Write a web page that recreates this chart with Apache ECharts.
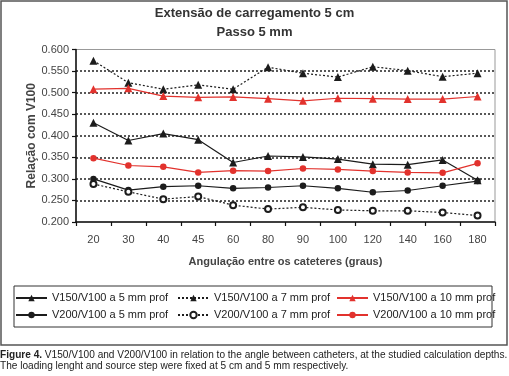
<!DOCTYPE html>
<html><head><meta charset="utf-8">
<script src="https://cdn.jsdelivr.net/npm/echarts@6/dist/echarts.min.js"></script>
<style>html,body{margin:0;padding:0;background:#fff}#c{width:509px;height:376px}</style>
</head><body><div id="c"></div>
<script>
const categories = ['20','30','40','45','60','80','90','100','120','140','160','180'];
const v150_5  = [0.430,0.389,0.405,0.391,0.338,0.353,0.351,0.346,0.334,0.333,0.344,0.297];
const v150_7  = [0.574,0.523,0.508,0.518,0.508,0.559,0.545,0.536,0.560,0.551,0.537,0.545];
const v150_10 = [0.508,0.510,0.492,0.489,0.490,0.486,0.481,0.487,0.486,0.485,0.485,0.491];
const v200_5  = [0.300,0.274,0.282,0.284,0.278,0.280,0.284,0.278,0.269,0.273,0.284,0.295];
const v200_7  = [0.288,0.270,0.253,0.259,0.239,0.230,0.234,0.228,0.226,0.226,0.222,0.215];
const v200_10 = [0.348,0.331,0.328,0.315,0.319,0.318,0.324,0.322,0.318,0.315,0.314,0.336];
const names = ['V150/V100 a 5 mm prof','V150/V100 a 7 mm prof','V150/V100 a 10 mm prof',
               'V200/V100 a 5 mm prof','V200/V100 a 7 mm prof','V200/V100 a 10 mm prof'];
const titleText = 'Extensão de carregamento 5 cm\nPasso 5 mm';
const xName = 'Angulação entre os cateteres (graus)';
const yName = 'Relação com V100';
const caption1 = 'V150/V100 and V200/V100 in relation to the angle between catheters, at the studied calculation depths.';
const caption2 = 'The loading lenght and source step were fixed at 5 cm and 5 mm respectively.';

const BLACK = '#1c1c1c', RED = '#e2322d';
const FONT = '"Liberation Sans", Arial, sans-serif';

function mk(name, data, color, symbol, dotted, size) {
  return {
    name, type: 'line', data, symbol, symbolSize: size,
    lineStyle: { color, width: 1.2, type: dotted ? [2, 2] : 'solid' },
    itemStyle: { color, borderColor: color, borderWidth: symbol === 'emptyCircle' ? 1.2 : 0 },
    z: 3
  };
}

const legendPos = [[15, 292.5], [177, 292.5], [336, 292.5], [15, 309.5], [177, 309.5], [336, 309.5]];
const legends = names.map((n, i) => ({
  data: [n], left: legendPos[i][0], top: legendPos[i][1], padding: 0,
  itemWidth: 31, itemHeight: 8, selectedMode: false,
  textStyle: { fontFamily: FONT, fontSize: 11, color: '#222' }
}));

const chart = echarts.init(document.getElementById('c'), null, { renderer: 'canvas' });
chart.setOption({
  animation: false,
  backgroundColor: '#fff',
  title: {
    text: titleText, left: 'center', top: 4, padding: 0,
    textStyle: { fontFamily: FONT, fontSize: 13, fontWeight: 'bold', color: '#333', lineHeight: 19 }
  },
  legend: legends,
  grid: { left: 76, right: 14, top: 49.5, bottom: 154, show: true, borderColor: '#999', borderWidth: 1, backgroundColor: 'transparent' },
  xAxis: {
    type: 'category', data: categories, boundaryGap: true,
    name: xName, nameLocation: 'middle', nameGap: 34,
    nameTextStyle: { fontFamily: FONT, fontSize: 11, fontWeight: 'bold', color: '#444' },
    axisLine: { lineStyle: { color: '#111', width: 1.5 } },
    axisTick: { show: true, inside: false, length: 4, lineStyle: { color: '#111', width: 1.2 } },
    axisLabel: { fontFamily: FONT, fontSize: 11, color: '#444', margin: 12 },
    splitLine: { show: false }
  },
  yAxis: {
    type: 'value', min: 0.2, max: 0.6, interval: 0.05,
    name: yName, nameLocation: 'middle', nameGap: 38, nameRotate: 90, nameMoveOverlap: false,
    nameTextStyle: { fontFamily: FONT, fontSize: 12, fontWeight: 'bold', color: '#444' },
    axisLine: { show: true, lineStyle: { color: '#111', width: 1.5 } },
    axisTick: { show: true, inside: false, length: 4, lineStyle: { color: '#111', width: 1.2 } },
    axisLabel: { fontFamily: FONT, fontSize: 11, color: '#444', margin: 7, formatter: v => v.toFixed(3) },
    splitLine: { show: true, showMinLine: false, showMaxLine: false, lineStyle: { color: '#222', width: 1.5, type: [2, 2] } }
  },
  series: [
    mk(names[0], v150_5, BLACK, 'triangle', false, 8),
    mk(names[1], v150_7, BLACK, 'triangle', true, 8),
    mk(names[2], v150_10, RED, 'triangle', false, 8),
    mk(names[3], v200_5, BLACK, 'circle', false, 6.5),
    mk(names[4], v200_7, BLACK, 'emptyCircle', true, 6),
    mk(names[5], v200_10, RED, 'circle', false, 6.5)
  ],
  graphic: [
    { type: 'rect', shape: { x: 1, y: 1, width: 506, height: 344 }, style: { fill: 'none', stroke: '#555', lineWidth: 1.5 }, z: -1 },
    { type: 'rect', shape: { x: 14, y: 286, width: 478, height: 41 }, style: { fill: 'none', stroke: '#333', lineWidth: 1 } },
    { type: 'text', left: 0, top: 350, style: {
        text: '{b|Figure 4.} ' + caption1, font: '10.1px ' + FONT, fill: '#222',
        rich: { b: { fontWeight: 'bold', fontSize: 10.1, fontFamily: FONT, fill: '#222' } } } },
    { type: 'text', left: 0, top: 361.5, style: { text: caption2, font: '10.1px ' + FONT, fill: '#222' } }
  ]
});
</script>
</body></html>
